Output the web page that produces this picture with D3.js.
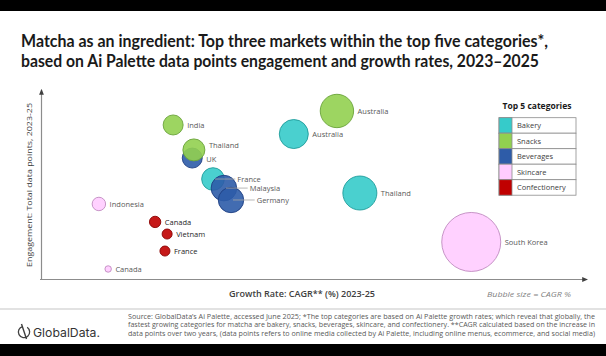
<!DOCTYPE html>
<html><head><meta charset="utf-8">
<script src="https://cdn.jsdelivr.net/npm/d3@7"></script>
<style>html,body{margin:0;padding:0;background:#fff;}svg{display:block;}</style>
</head><body>
<svg id="c" width="606" height="356"></svg>
<script>
// ---- data ----
const categories = ["Bakery", "Snacks", "Beverages", "Skincare", "Confectionery"];
const markets = ["Canada", "Indonesia", "Canada", "Vietnam", "France", "India", "UK", "Thailand", "France", "Malaysia", "Germany", "Australia", "Australia", "Thailand", "South Korea"];
const marketCategory = ["Skincare", "Skincare", "Confectionery", "Confectionery", "Confectionery", "Snacks", "Beverages", "Snacks", "Bakery", "Beverages", "Beverages", "Bakery", "Snacks", "Bakery", "Skincare"];
const growthRate = [12.3, 10.6, 20.9, 23.1, 22.7, 24.2, 27.7, 28.0, 31.5, 33.5, 34.8, 46.3, 54.2, 58.4, 78.8];
const engagement = [5.3, 39.7, 30.2, 23.8, 14.8, 81.5, 64.0, 68.3, 52.9, 48.1, 41.8, 76.7, 88.9, 45.5, 19.6];
const bubbleCagr = [1.2, 5.2, 3.7, 2.9, 2.9, 11.5, 11.5, 13.9, 14.7, 18.8, 18.5, 24.2, 32.0, 33.2, 100];
const leaderLabelled = [false, false, false, false, false, false, false, false, true, true, true, false, false, false, false];

const titleLines = ["Matcha as an ingredient: Top three markets within the top five categories*,",
  "based on Ai Palette data points engagement and growth rates, 2023\u20132025"];
const xAxisTitle = "Growth Rate: CAGR** (%) 2023-25";
const yAxisTitle = "Engagement: Total data points, 2023-25";
const sizeNote = "Bubble size = CAGR %";
const legendTitle = "Top 5 categories";
const sourceLines = [
  "Source: GlobalData\u2019s Ai Palette, accessed June 2025; *The top categories are based on Ai Palette growth rates; which reveal that globally, the",
  "fastest growing categories for matcha are bakery, snacks, beverages, skincare, and confectionery. **CAGR calculated based on the increase in",
  "data points over two years, (data points refers to online media collected by Ai Palette, including online menus, ecommerce, and social media)"];

// ---- styles / layout ----
const fills = ["#36cbca", "#92d050", "#2e5ca8", "#ffccff", "#c00000"];
const strokes = ["#1f9c9b", "#6aa33a", "#1f3f82", "#c08ac0", "#8a0000"];
const labelNudgeY = { 7: -4.5, 6: 0.5 }; // label vertical nudges by point index (layout only)

const svg = d3.select("#c");
svg.append("rect").attr("width", 606).attr("height", 356).attr("fill", "#fff");
svg.append("rect").attr("width", 606).attr("height", 11).attr("fill", "#000");
svg.append("rect").attr("y", 344).attr("width", 606).attr("height", 12).attr("fill", "#000");

// title
const tW = [527, 518];
titleLines.forEach((t, i) => {
  svg.append("text").attr("x", 21).attr("y", 47 + i * 20)
    .attr("font-family", "Lato, 'Open Sans', sans-serif").attr("font-weight", 700)
    .attr("font-size", 16.5).attr("fill", "#1a1a1a")
    .attr("textLength", tW[i]).attr("lengthAdjust", "spacingAndGlyphs").text(t);
});

const x = d3.scaleLinear().domain([0, 100]).range([41, 587]);
const y = d3.scaleLinear().domain([0, 100]).range([279, 90]);
const r = d3.scaleSqrt().domain([0, 100]).range([0, 29.5]);
const color = d3.scaleOrdinal().domain(categories).range(fills);
const strokeC = d3.scaleOrdinal().domain(categories).range(strokes);

// axes
const defs = svg.append("defs");
defs.append("marker").attr("id", "arr").attr("viewBox", "0 0 10 10").attr("refX", 8).attr("refY", 5)
  .attr("markerWidth", 5).attr("markerHeight", 5).attr("orient", "auto")
  .append("path").attr("d", "M0,1 L10,5 L0,9 Z").attr("fill", "#404040");
const xAxis = d3.axisBottom(x).tickValues([]).tickSizeOuter(0);
const yAxis = d3.axisLeft(y).tickValues([]).tickSizeOuter(0);
const gx = svg.append("g").attr("transform", "translate(0,279)").call(xAxis);
const gy = svg.append("g").attr("transform", "translate(41,0)").call(yAxis);
gx.select(".domain").attr("stroke", "#8c8c8c").attr("stroke-width", 1.2).attr("marker-end", "url(#arr)");
gy.select(".domain").attr("stroke", "#8c8c8c").attr("stroke-width", 1.2).attr("marker-end", "url(#arr)");
gy.select(".domain").attr("d", `M0.5,${y(0) + 1}V${y(100)}`);
gx.select(".domain").attr("d", `M${x(0) - 1},0.5H${x(100)}`);

svg.append("text").attr("transform", "translate(32,185) rotate(-90)").attr("text-anchor", "middle")
  .attr("font-family", "'Open Sans', sans-serif").attr("font-size", 8).attr("fill", "#404040")
  .attr("textLength", 164).attr("lengthAdjust", "spacingAndGlyphs").text(yAxisTitle);
svg.append("text").attr("x", 302).attr("y", 297).attr("text-anchor", "middle")
  .attr("font-family", "'Open Sans', sans-serif").attr("font-weight", 600).attr("font-size", 8.5).attr("fill", "#404040")
  .attr("textLength", 146).attr("lengthAdjust", "spacingAndGlyphs").text(xAxisTitle);
svg.append("text").attr("x", 529).attr("y", 297).attr("text-anchor", "middle")
  .attr("font-family", "'Open Sans', sans-serif").attr("font-style", "italic").attr("font-size", 8).attr("fill", "#7f7f7f")
  .attr("textLength", 84).attr("lengthAdjust", "spacingAndGlyphs").text(sizeNote);

// bubbles
const data = markets.map((m, i) => ({ i, m, cat: marketCategory[i], gx: growthRate[i], ey: engagement[i], s: bubbleCagr[i], lead: leaderLabelled[i] }));
svg.append("g").selectAll("circle").data(data).join("circle")
  .attr("cx", d => x(d.gx)).attr("cy", d => y(d.ey)).attr("r", d => r(d.s))
  .attr("fill", d => color(d.cat)).attr("fill-opacity", 0.9)
  .attr("stroke", d => strokeC(d.cat)).attr("stroke-width", 0.9);

// labels and leader lines
const lab = svg.append("g");
data.forEach(d => {
  const cx = x(d.gx), cy = y(d.ey), rr = r(d.s);
  let lx = cx + rr + 4;
  if (d.lead) {
    lab.append("line").attr("x1", cx + 2).attr("x2", cx + rr + 11).attr("y1", cy).attr("y2", cy)
      .attr("stroke", "#a6a6a6").attr("stroke-width", 0.8);
    lx = cx + rr + 13;
  }
  lab.append("text").attr("x", lx).attr("y", cy + 3 + (labelNudgeY[d.i] || 0)).attr("font-family", "'Open Sans', sans-serif")
    .attr("font-size", 7.5).attr("fill", d.cat === "Confectionery" ? "#262626" : "#595959").text(d.m);
});

// legend
svg.append("text").attr("x", 537).attr("y", 109).attr("text-anchor", "middle")
  .attr("font-family", "'Open Sans', sans-serif").attr("font-weight", 700).attr("font-size", 8.5).attr("fill", "#1a1a1a")
  .text(legendTitle);
const lg = svg.append("g");
const rowH = 15.5, lx0 = 499, ly0 = 117.7;
categories.forEach((c, i) => {
  lg.append("rect").attr("x", lx0).attr("y", ly0 + i * rowH).attr("width", 77).attr("height", rowH)
    .attr("fill", "#fff").attr("stroke", "#8c8c8c").attr("stroke-width", 0.8);
  lg.append("rect").attr("x", lx0).attr("y", ly0 + i * rowH).attr("width", 13).attr("height", rowH)
    .attr("fill", color(c)).attr("stroke", "#8c8c8c").attr("stroke-width", 0.8);
  lg.append("text").attr("x", 517).attr("y", ly0 + i * rowH + 10.5)
    .attr("font-family", "'Open Sans', sans-serif").attr("font-size", 7.5).attr("fill", "#404040").text(c);
});

// footer
svg.append("line").attr("x1", 0).attr("x2", 606).attr("y1", 309).attr("y2", 309).attr("stroke", "#d9d9d9").attr("stroke-width", 1.5);
sourceLines.forEach((t, i) => {
  svg.append("text").attr("x", 128).attr("y", 319 + i * 8.3)
    .attr("font-family", "'Open Sans', sans-serif").attr("font-size", 6.3).attr("fill", "#595959")
    .attr("textLength", 467).attr("lengthAdjust", "spacingAndGlyphs").text(t);
});
// logo
const logo = svg.append("g").attr("transform", "translate(24,332)");
logo.append("path").attr("d", d3.arc()({ innerRadius: 5, outerRadius: 6.3, startAngle: 0.6, endAngle: 2 * Math.PI - 0.25 }))
  .attr("fill", "#404040");
logo.append("line").attr("x1", -2.5).attr("y1", -8).attr("x2", 2.5).attr("y2", 7).attr("stroke", "#404040").attr("stroke-width", 1.4);
svg.append("text").attr("x", 33).attr("y", 336.5).attr("font-family", "Inter, 'Open Sans', sans-serif")
  .attr("font-size", 12).attr("fill", "#333").attr("textLength", 67).attr("lengthAdjust", "spacingAndGlyphs").text("GlobalData.");
</script>
</body></html>
